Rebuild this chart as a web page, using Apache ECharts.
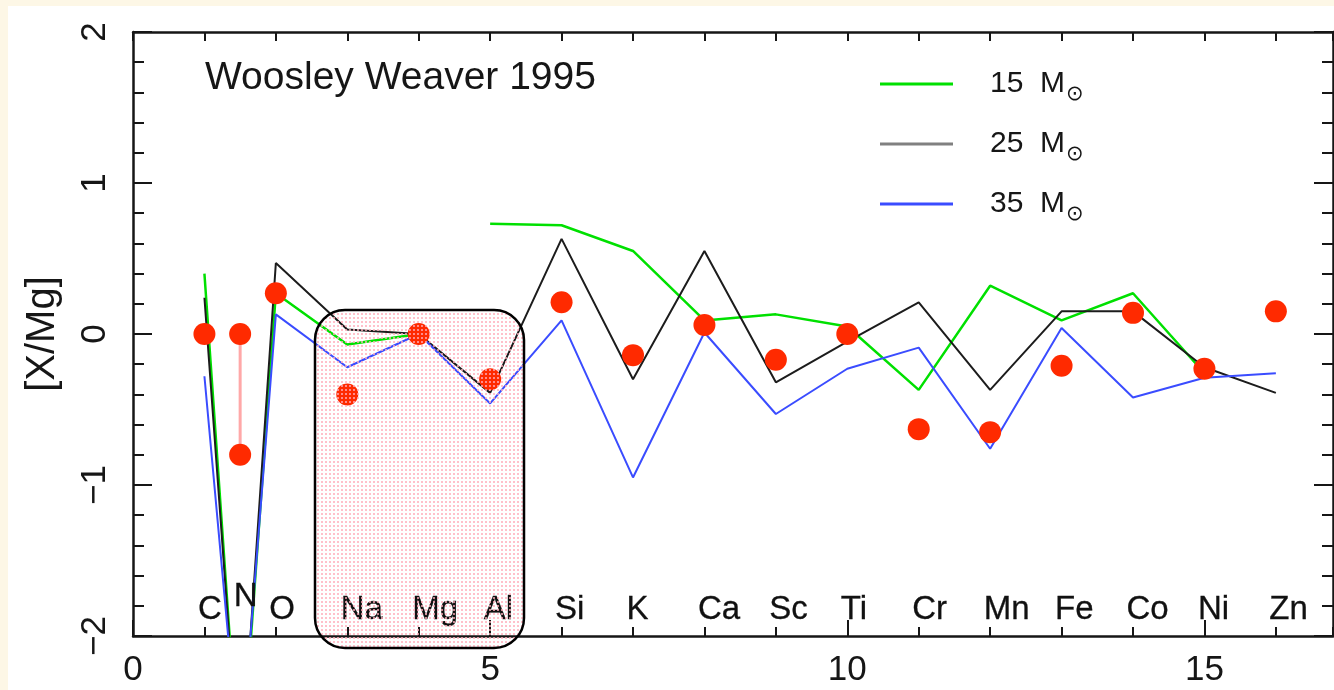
<!DOCTYPE html>
<html>
<head>
<meta charset="utf-8">
<title>[X/Mg] — Woosley Weaver 1995</title>
<script src="https://cdn.jsdelivr.net/npm/echarts@6/dist/echarts.min.js"></script>
<style>
  html, body { margin: 0; padding: 0; width: 1334px; height: 690px; background: #fdf7e6; overflow: hidden; }
  #panel { position: absolute; left: 8px; top: 6px; right: 0; bottom: 0; background: #ffffff; }
  #chart { position: absolute; left: 0; top: 0; width: 1334px; height: 690px; }
</style>
</head>
<body>
<div id="panel"></div>
<div id="chart"></div>
<script>
// ---- data -----------------------------------------------------------------
const ELEMENTS  = ['C', 'N', 'O', 'Na', 'Mg', 'Al', 'Si', 'K', 'Ca', 'Sc', 'Ti', 'Cr', 'Mn', 'Fe', 'Co', 'Ni', 'Zn'];
const ELEMENT_X = [1, 1.5, 2, 3, 4, 5, 6, 7, 8, 9, 10, 11, 12, 13, 14, 15, 16];

// observed abundances [X/Mg]
const OBSERVED  = [0.00, 0.00, 0.27, -0.40, 0.00, -0.30, 0.21, -0.14, 0.06, -0.17, 0.00, -0.63, -0.65, -0.21, 0.14, -0.23, 0.15];
// second (lower) nitrogen value, joined to the upper one
const N_LOWER   = -0.80;

// Woosley & Weaver (1995) yields
const MODEL_15  = [0.40, -3.00, 0.27, -0.07, 0.00, 0.73, 0.72, 0.55, 0.09, 0.13, 0.05, -0.37, 0.32, 0.09, 0.27, -0.26, null];
const MODEL_25  = [0.24, -3.00, 0.47, 0.03, 0.00, -0.39, 0.63, -0.30, 0.55, -0.32, -0.05, 0.21, -0.37, 0.15, 0.15, -0.22, -0.39];
const MODEL_35  = [-0.28, -2.87, 0.13, -0.22, 0.00, -0.46, 0.09, -0.95, 0.01, -0.53, -0.23, -0.09, -0.76, 0.04, -0.42, -0.29, -0.26];
// the 15 Msun curve is drawn as two pieces, broken before this element
const MODEL_15_BREAK_BEFORE = 'Al';

const SERIES_NAMES = ['15 M⊙', '25 M⊙', '35 M⊙'];
const Y_TICKS = [-2, -1, 0, 1, 2];

// ---- layout / style ---------------------------------------------------------
const FONT = '"Liberation Sans", Arial, Helvetica, sans-serif';
const INK = '#161616';
const COLORS = { m15: '#00e000', m25: '#1c1c1c', m25key: '#808080', m35: '#3a4cff', obs: '#ff2a00', nbar: '#ffa8a8' };
const X_MIN = 0, X_MAX = 16.8;
const Y_MIN = Y_TICKS[0], Y_MAX = Y_TICKS[Y_TICKS.length - 1];
const LABEL_Y = -1.83;                          // row of element symbols
const BOX = { x0: 2.55, x1: 5.47, y0: 0.16, y1: -2.08 };   // highlighted Na–Al group

const GRID = { left: 133, top: 32, width: 1200, height: 604 };

function pairs(xs, ys, breakBefore) {
  const out = [];
  xs.forEach((x, i) => {
    if (ys[i] === null || ys[i] === undefined) return;
    if (breakBefore && ELEMENTS[i] === breakBefore) out.push(['-', '-']);
    out.push([x, ys[i]]);
  });
  return out;
}

const observedData = ELEMENT_X.map((x, i) => [x, OBSERVED[i]]);
observedData.push([ELEMENT_X[ELEMENTS.indexOf('N')], N_LOWER]);

const nX = ELEMENT_X[ELEMENTS.indexOf('N')];
const nRange = [[nX, OBSERVED[ELEMENTS.indexOf('N')]], [nX, N_LOWER]];

const labelData = ELEMENTS.map((el, i) => {
  const item = { name: el, value: [ELEMENT_X[i], LABEL_Y] };
  if (el === 'N') item.label = { offset: [0, -13] };
  return item;
});

const minus = v => String(v).replace('-', '\u2212');

const chart = echarts.init(document.getElementById('chart'), null, { renderer: 'canvas' });

const frameLine = { show: true, onZero: false, lineStyle: { color: INK, width: 2.5 } };
const tickStyle = { color: INK, width: 2 };

const option = {
  backgroundColor: 'transparent',
  animation: false,
  title: {
    text: 'Woosley Weaver 1995',
    left: 205, top: 59, padding: 0,
    textStyle: { fontFamily: FONT, fontSize: 39, fontWeight: 'normal', color: INK }
  },
  legend: {
    orient: 'vertical',
    left: 880, top: 62, padding: 0,
    icon: 'rect',
    itemWidth: 73, itemHeight: 3, itemGap: 16,
    selectedMode: false,
    formatter: n => n.replace(' M⊙', '  M{sun|⊙}'),
    textStyle: {
      fontFamily: FONT, fontSize: 30, color: INK, lineHeight: 44,
      padding: [0, 0, 0, 32],
      rich: { sun: { fontFamily: '"DejaVu Sans", sans-serif', fontSize: 21, lineHeight: 22, color: INK, padding: [22, 0, 0, 1] } }
    },
    data: [
      { name: SERIES_NAMES[0], itemStyle: { color: COLORS.m15 } },
      { name: SERIES_NAMES[1], itemStyle: { color: COLORS.m25key } },
      { name: SERIES_NAMES[2], itemStyle: { color: COLORS.m35 } }
    ]
  },
  grid: [
    Object.assign({ containLabel: false }, GRID),
    Object.assign({ containLabel: false }, GRID)
  ],
  xAxis: [
    { // bottom, major ticks and labels
      type: 'value', gridIndex: 0, position: 'bottom', min: X_MIN, max: X_MAX, interval: 5,
      axisLine: frameLine,
      axisTick: { show: true, inside: true, length: 16, lineStyle: tickStyle },
      axisLabel: { show: true, margin: 17, showMaxLabel: false, fontFamily: FONT, fontSize: 35, color: INK },
      splitLine: { show: false }
    },
    { // top frame
      type: 'value', gridIndex: 0, position: 'top', min: X_MIN, max: X_MAX, interval: 5,
      axisLine: frameLine,
      axisTick: { show: true, inside: true, length: 9, lineStyle: tickStyle },
      axisLabel: { show: false },
      splitLine: { show: false }
    },
    { // bottom, unit ticks
      type: 'value', gridIndex: 1, position: 'bottom', min: X_MIN, max: X_MAX, interval: 1,
      axisLine: { show: false, onZero: false },
      axisTick: { show: true, inside: true, length: 9, lineStyle: tickStyle },
      axisLabel: { show: false },
      splitLine: { show: false }
    },
    { // top, unit ticks
      type: 'value', gridIndex: 1, position: 'top', min: X_MIN, max: X_MAX, interval: 1,
      axisLine: { show: false, onZero: false },
      axisTick: { show: true, inside: true, length: 9, lineStyle: tickStyle },
      axisLabel: { show: false },
      splitLine: { show: false }
    }
  ],
  yAxis: [
    { // left frame with labels, title and inward ticks
      type: 'value', gridIndex: 0, position: 'left', min: Y_MIN, max: Y_MAX, interval: 1,
      name: '[X/Mg]', nameLocation: 'middle', nameRotate: 90, nameGap: 70,
      nameTextStyle: { fontFamily: FONT, fontSize: 40, color: INK },
      axisLine: frameLine,
      axisTick: { show: true, inside: true, length: 19, lineStyle: tickStyle },
      minorTick: { show: true, splitNumber: 5, length: 11, lineStyle: tickStyle },
      axisLabel: { show: true, rotate: 90, margin: 20, fontFamily: FONT, fontSize: 35, color: INK, formatter: minus },
      splitLine: { show: false }
    },
    { // right frame
      type: 'value', gridIndex: 0, position: 'right', min: Y_MIN, max: Y_MAX, interval: 1,
      axisLine: frameLine,
      axisTick: { show: true, inside: true, length: 19, lineStyle: tickStyle },
      minorTick: { show: true, splitNumber: 5, length: 11, lineStyle: tickStyle },
      axisLabel: { show: false },
      splitLine: { show: false }
    },
    { type: 'value', gridIndex: 1, show: false, min: Y_MIN, max: Y_MAX, axisLine: { onZero: false } }
  ],
  series: [
    {
      name: 'N range', type: 'line', xAxisIndex: 0, yAxisIndex: 0,
      data: nRange, symbol: 'none', z: 2,
      lineStyle: { color: COLORS.nbar, width: 3 }
    },
    {
      name: SERIES_NAMES[0], type: 'line', xAxisIndex: 0, yAxisIndex: 0,
      data: pairs(ELEMENT_X, MODEL_15, MODEL_15_BREAK_BEFORE),
      symbol: 'none', connectNulls: false, clip: true, z: 3,
      itemStyle: { color: COLORS.m15 },
      lineStyle: { color: COLORS.m15, width: 2.5 }
    },
    {
      name: SERIES_NAMES[1], type: 'line', xAxisIndex: 0, yAxisIndex: 0,
      data: pairs(ELEMENT_X, MODEL_25),
      symbol: 'none', clip: true, z: 3,
      itemStyle: { color: COLORS.m25 },
      lineStyle: { color: COLORS.m25, width: 2 }
    },
    {
      name: SERIES_NAMES[2], type: 'line', xAxisIndex: 0, yAxisIndex: 0,
      data: pairs(ELEMENT_X, MODEL_35),
      symbol: 'none', clip: true, z: 3,
      itemStyle: { color: COLORS.m35 },
      lineStyle: { color: COLORS.m35, width: 2 }
    },
    {
      name: 'observed', type: 'scatter', xAxisIndex: 0, yAxisIndex: 0,
      data: observedData, symbol: 'circle', symbolSize: 22, z: 5,
      itemStyle: { color: COLORS.obs, opacity: 1 }
    },
    {
      name: 'elements', type: 'scatter', xAxisIndex: 0, yAxisIndex: 0,
      data: labelData, symbolSize: 1, z: 4, silent: true,
      itemStyle: { color: 'rgba(0,0,0,0)' },
      label: {
        show: true, position: [-6, 0], align: 'left', verticalAlign: 'middle',
        formatter: p => p.name, fontFamily: FONT, fontSize: 33, color: '#111', opacity: 1,
        textBorderWidth: 0.3, textBorderColor: '#111'
      }
    }
  ]
};

chart.setOption(option);

// dotted pink fill for the highlighted group
function dotPattern() {
  const c = document.createElement('canvas');
  c.width = 4; c.height = 4;
  const g = c.getContext('2d');
  g.fillStyle = 'rgba(255,172,186,0.75)';
  g.fillRect(1, 1, 2, 2);
  return c;
}

const p0 = chart.convertToPixel({ gridIndex: 0 }, [BOX.x0, BOX.y0]);
const p1 = chart.convertToPixel({ gridIndex: 0 }, [BOX.x1, BOX.y1]);
chart.setOption({
  graphic: [{
    type: 'rect', z: 100,
    shape: { x: Math.round(p0[0]), y: Math.round(p0[1]), width: Math.round(p1[0] - p0[0]), height: Math.round(p1[1] - p0[1]), r: 30 },
    style: { fill: { image: dotPattern(), repeat: 'repeat' }, stroke: '#000', lineWidth: 2.5 }
  }]
});
</script>
</body>
</html>
